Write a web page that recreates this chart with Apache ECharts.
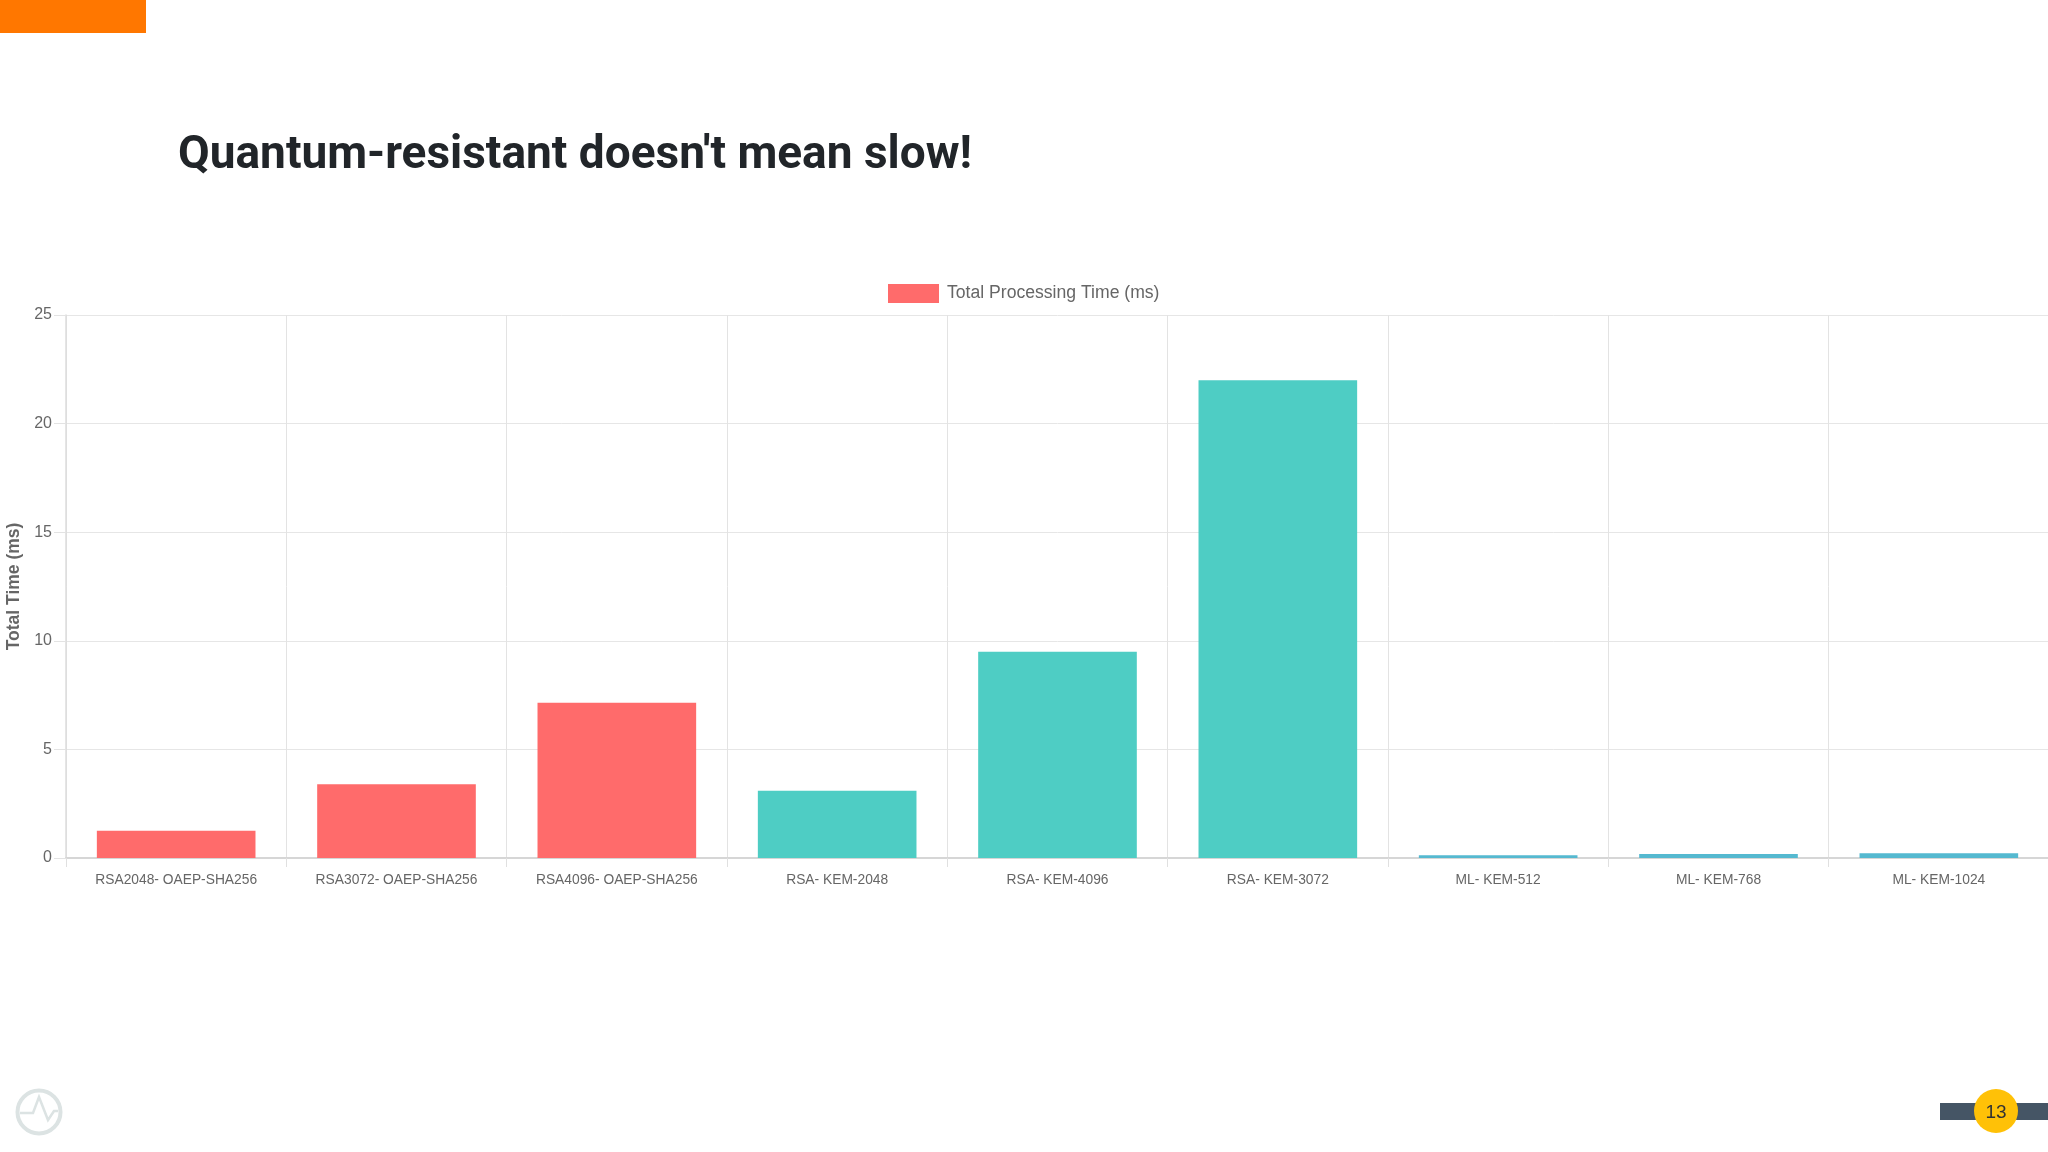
<!DOCTYPE html>
<html>
<head>
<meta charset="utf-8">
<style>html,body{margin:0;padding:0;background:#fff;overflow:hidden}#c{width:2048px;height:1152px}</style>
<script src="https://cdn.jsdelivr.net/npm/echarts@6/dist/echarts.min.js"></script>
</head>
<body>
<div id="c"></div>
<script>
const categories = ['RSA2048- OAEP-SHA256','RSA3072- OAEP-SHA256','RSA4096- OAEP-SHA256','RSA- KEM-2048','RSA- KEM-4096','RSA- KEM-3072','ML- KEM-512','ML- KEM-768','ML- KEM-1024'];
const totalTime = [1.26,3.39,7.15,3.1,9.5,22.0,0.13,0.18,0.22];
const barColors = ['#FF6B6B','#FF6B6B','#FF6B6B','#4ECDC4','#4ECDC4','#4ECDC4','#55B9D0','#55B9D0','#55B9D0'];
const seriesName = 'Total Processing Time (ms)';
const titleText = "Quantum-resistant doesn't mean slow!";
const pageNumber = '13';

const chart = echarts.init(document.getElementById('c'), null, {renderer:'canvas'});
chart.setOption({
  animation:false,
  backgroundColor:'#fff',
  title:{text:titleText,left:173,top:128,textStyle:{fontFamily:'Roboto',fontWeight:'bold',fontSize:46,color:'#212529'}},
  legend:{left:888,top:284,padding:0,itemWidth:51,itemHeight:19,itemGap:9,icon:'rect',
    textStyle:{fontFamily:'Liberation Sans',fontSize:17.6,color:'#666',padding:[4,0,0,3]}},
  grid:{left:66,top:315,width:1983,height:543,containLabel:false,outerBoundsMode:'none'},
  xAxis:{type:'category',data:categories,
    axisLine:{lineStyle:{color:'#d6d6d6',width:2}},
    axisTick:{show:true,length:9,lineStyle:{color:'#e0e0e0',width:1}},
    splitLine:{show:true,lineStyle:{color:'#e3e3e3',width:1}},
    axisLabel:{fontFamily:'Liberation Sans',fontSize:13.8,color:'#666',margin:15,interval:0}},
  yAxis:{type:'value',min:0,max:25,interval:5,name:'Total Time (ms)',nameLocation:'middle',nameGap:39,
    nameTextStyle:{fontFamily:'Liberation Sans',fontWeight:'bold',fontSize:17.5,color:'#666'},
    axisLine:{show:true,lineStyle:{color:'#dcdcdc',width:1.5}},
    axisTick:{show:true,length:12,lineStyle:{color:'#e3e3e3',width:1}},
    splitLine:{show:true,lineStyle:{color:'#e6e6e6',width:1}},
    axisLabel:{fontFamily:'Liberation Sans',fontSize:16,color:'#666',margin:14,padding:[4,0,0,0]}},
  series:[{name:seriesName,type:'bar',barWidth:'72%',
    itemStyle:{color:'#FF6B6B'},
    data:totalTime.map((v,i)=>({value:v,itemStyle:{color:barColors[i]}}))}],
  graphic:[
    {type:'rect',shape:{x:0,y:0,width:146,height:33},style:{fill:'#FF7700'}},
    {type:'rect',shape:{x:1940,y:1103,width:108,height:17},style:{fill:'#455565'}},
    {type:'circle',shape:{cx:1996,cy:1111,r:22},style:{fill:'#FFC107'}},
    {type:'text',style:{x:1996,y:1113,text:pageNumber,align:'center',verticalAlign:'middle',font:'19px "Liberation Sans"',fill:'#333'}},
    {type:'circle',shape:{cx:39,cy:1112,r:21.5},style:{fill:'none',stroke:'#DCE3E3',lineWidth:4}},
    {type:'polyline',shape:{points:[[20,1113],[33,1113],[39,1097],[48,1120],[54,1111],[58,1111]]},style:{fill:'none',stroke:'#DCE3E3',lineWidth:2.5}}
  ]
});
</script>
</body>
</html>
